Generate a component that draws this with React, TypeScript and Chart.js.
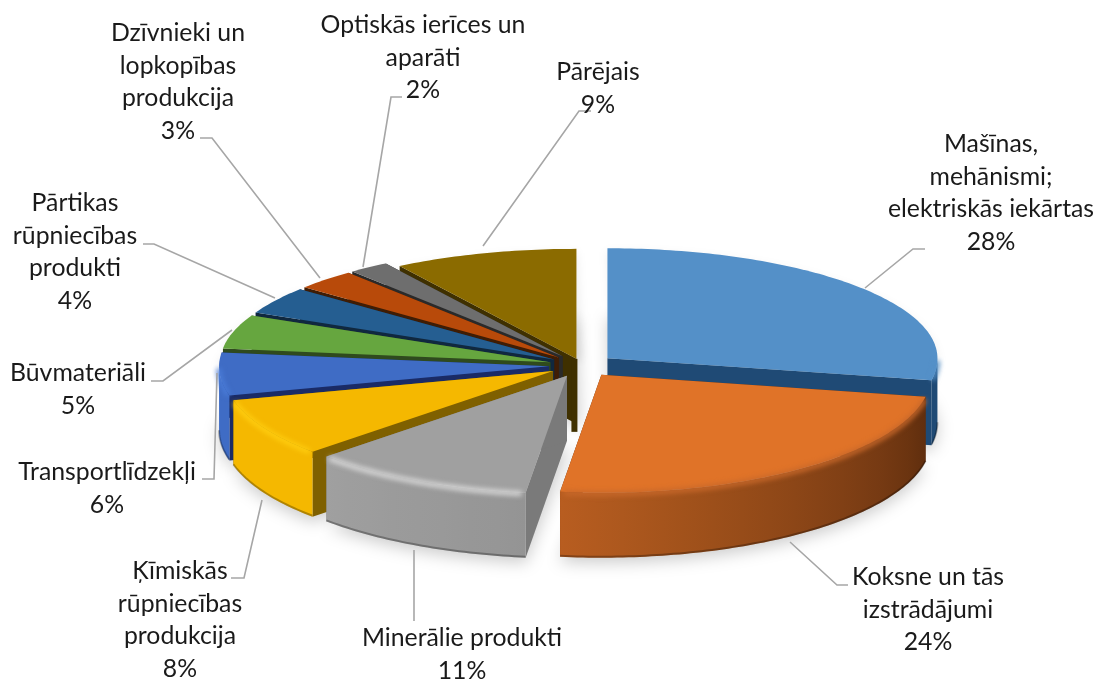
import React, { useEffect, useRef } from "react";
import { Chart, registerables } from "chart.js";

Chart.register(...registerables);

const categories = [
  "Mašīnas, mehānismi; elektriskās iekārtas",
  "Koksne un tās izstrādājumi",
  "Minerālie produkti",
  "Ķīmiskās rūpniecības produkcija",
  "Transportlīdzekļi",
  "Būvmateriāli",
  "Pārtikas rūpniecības produkti",
  "Dzīvnieki un lopkopības produkcija",
  "Optiskās ierīces un aparāti",
  "Pārējais",
];
const shares = [28, 24, 11, 8, 6, 5, 4, 3, 2, 9];
const labelLines = [
  ["Mašīnas,", "mehānismi;", "elektriskās iekārtas"],
  ["Koksne un tās", "izstrādājumi"],
  ["Minerālie produkti"],
  ["Ķīmiskās", "rūpniecības", "produkcija"],
  ["Transportlīdzekļi"],
  ["Būvmateriāli"],
  ["Pārtikas", "rūpniecības", "produkti"],
  ["Dzīvnieki un", "lopkopības", "produkcija"],
  ["Optiskās ierīces un", "aparāti"],
  ["Pārējais"],
];

const topColors = ["#5490C8", "#E07328", "#A0A0A0", "#F5B800", "#3F6CC5", "#66A63F", "#255E91", "#B84A0A", "#6E6E6E", "#8B6B00"];
const wallColors = ["#1F4A75", "#5F2E0E", "#7A7A7A", "#7F6000", "#1A2B66", "#2F4A1E", "#10283F", "#3F1D05", "#2A2A2A", "#3F3000"];
const rimColors = ["#5490C8", "#C8682A", "#D8D8D8", "#FFCE10", "#4A7CD8", "#66A63F", "#255E91", "#B84A0A", "#6E6E6E", "#8B6B00"];
const explode = [33, 33, 33, 33, 33, 33, 33, 33, 33, 20];

// label block: centre x, first line centre y; leader polyline
const labelBoxes = [
  { x: 991, y: 144, leader: [[865, 288], [913, 249], [925, 249]] },
  { x: 928, y: 577, leader: [[790, 542], [837, 585], [848, 585]] },
  { x: 462, y: 638, leader: [[414, 550], [414, 621]] },
  { x: 180, y: 571, leader: [[262, 500], [244, 578], [231, 578]] },
  { x: 107, y: 472, leader: [[217, 373], [214, 479], [202, 479]] },
  { x: 78, y: 373, leader: [[232, 330], [163, 381], [151, 381]] },
  { x: 75, y: 203, leader: [[275, 298], [154, 244], [143, 244]] },
  { x: 178, y: 33, leader: [[320, 278], [212, 138], [200, 138]] },
  { x: 423, y: 25, leader: [[363, 267], [391, 97], [402, 97]] },
  { x: 598, y: 72, leader: [[483, 246], [579, 111], [591, 111]] },
];

const TILT = 114 / 330;
const BACK_RY = 110 / 330;
const FRONT_RY = 118 / 330;
const DEPTH = 65;
const LINE_HEIGHT = 32.7;
const SOFT = "blur(0.7px)";

function hexRgb(h: string) {
  return [parseInt(h.slice(1, 3), 16), parseInt(h.slice(3, 5), 16), parseInt(h.slice(5, 7), 16)];
}
function mix(a: string, b: string, t: number) {
  const A = hexRgb(a), B = hexRgb(b);
  return `rgb(${A.map((v, i) => Math.round(v + (B[i] - v) * t)).join(",")})`;
}

function geom(el: any) {
  const mid = (el.startAngle + el.endAngle) / 2;
  const off = el.options.offset;
  return {
    ax: el.x + Math.cos(mid) * off,
    ay: el.y + Math.sin(mid) * off * TILT,
    r: el.outerRadius,
    a0: el.startAngle,
    a1: el.endAngle,
    mid,
  };
}

function rimX(g: any, a: number) {
  return g.ax + Math.cos(a) * g.r;
}
function rimY(g: any, a: number) {
  const s = Math.sin(a);
  return g.ay + s * g.r * (s < 0 ? BACK_RY : FRONT_RY);
}
// traces the projected rim between two angles, continuing the current path
function traceRim(ctx: CanvasRenderingContext2D, g: any, from: number, to: number, dy = 0) {
  const steps = Math.max(4, Math.ceil((Math.abs(to - from) * 180) / Math.PI));
  for (let k = 0; k <= steps; k++) {
    const a = from + ((to - from) * k) / steps;
    ctx.lineTo(rimX(g, a), rimY(g, a) + dy);
  }
}

const pie3d = {
  id: "pie3d",
  beforeDatasetsDraw(chart: any) {
    const ctx: CanvasRenderingContext2D = chart.ctx;
    const els = chart.getDatasetMeta(0).data as any[];
    const items = els.map((el, i) => ({ i, ...geom(el) }));

    ctx.save();
    // soft floor shadow
    ctx.filter = "blur(8px)";
    ctx.fillStyle = "rgba(0,0,0,0.2)";
    items.forEach((g) => {
      ctx.beginPath();
      ctx.moveTo(g.ax + 3, g.ay + DEPTH + 5);
      traceRim(ctx, g, g.a0, g.a1, DEPTH + 5);
      ctx.closePath();
      ctx.fill();
    });
    ctx.filter = "blur(5px)";
    ctx.fillStyle = "rgba(0,0,0,0.08)";
    items.forEach((g) => {
      ctx.beginPath();
      ctx.moveTo(g.ax + 6, g.ay + 4);
      traceRim(ctx, g, g.a0, g.a1, 4);
      ctx.closePath();
      ctx.fill();
    });

    ctx.filter = SOFT;
    const order = [...items].sort((p, q) => Math.sin(p.mid) - Math.sin(q.mid));
    order.forEach((g) => {
      const { ax, ay, a0, a1, i } = g;

      // radial walls
      ctx.fillStyle = wallColors[i];
      [a0, a1].forEach((a) => {
        ctx.beginPath();
        ctx.moveTo(ax, ay);
        ctx.lineTo(rimX(g, a), rimY(g, a));
        ctx.lineTo(rimX(g, a), rimY(g, a) + DEPTH);
        ctx.lineTo(ax, ay + DEPTH);
        ctx.closePath();
        ctx.fill();
      });
      // wedge that ends exactly at the top shows its inner edge as a strip
      if (Math.abs(a1 - Math.PI * 1.5) < 1e-3) {
        ctx.beginPath();
        ctx.rect(ax - 5, ay, 6, DEPTH + 8);
        ctx.fill();
      }

      // outer wall
      const w0 = Math.max(a0, 0);
      const w1 = Math.min(a1, Math.PI);
      if (w1 > w0) {
        const x0 = rimX(g, w1), x1 = rimX(g, w0);
        const grad = ctx.createLinearGradient(x0, 0, x1 + 0.01, 0);
        for (let k = 0; k <= 8; k++) {
          const a = w1 - ((w1 - w0) * k) / 8;
          const deg = (a * 180) / Math.PI;
          const t = Math.min(1, Math.max(0, (deg - 10) / 127));
          const pos = Math.min(1, Math.max(0, (rimX(g, a) - x0) / (x1 - x0 + 0.01)));
          grad.addColorStop(pos, mix(wallColors[i], topColors[i], t));
        }
        ctx.fillStyle = grad;
        ctx.beginPath();
        ctx.moveTo(rimX(g, w0), rimY(g, w0));
        traceRim(ctx, g, w0, w1);
        traceRim(ctx, g, w1, w0, DEPTH);
        ctx.closePath();
        ctx.fill();
        // dark foot of the wall
        ctx.strokeStyle = "rgba(0,0,0,0.28)";
        ctx.lineWidth = 2;
        ctx.beginPath();
        traceRim(ctx, g, w0, w1, DEPTH - 1);
        ctx.stroke();
      }

      // top face
      ctx.fillStyle = topColors[i];
      ctx.beginPath();
      ctx.moveTo(ax, ay);
      traceRim(ctx, g, a0, a1);
      ctx.closePath();
      ctx.fill();

      // bevel along the front of the rim
      if (w1 > w0) {
        ctx.save();
        ctx.filter = "blur(2.5px)";
        ctx.strokeStyle = rimColors[i];
        ctx.lineWidth = 5;
        ctx.beginPath();
        traceRim(ctx, g, w0 + 0.012, w1 - 0.012, 1);
        ctx.stroke();
        ctx.restore();
      }
    });
    ctx.restore();
    return false;
  },
  afterDraw(chart: any) {
    const ctx: CanvasRenderingContext2D = chart.ctx;
    const total = shares.reduce((s, v) => s + v, 0);
    ctx.save();
    ctx.strokeStyle = "#A6A6A6";
    ctx.lineWidth = 1.6;
    labelBoxes.forEach((b) => {
      ctx.beginPath();
      b.leader.forEach(([x, y], k) => (k ? ctx.lineTo(x, y) : ctx.moveTo(x, y)));
      ctx.stroke();
    });
    ctx.fillStyle = "#1A1A1A";
    ctx.font = "24.8px Lato";
    ctx.textAlign = "center";
    ctx.textBaseline = "middle";
    labelLines.forEach((lines, i) => {
      const pct = `${Math.round((shares[i] / total) * 100)}%`;
      [...lines, pct].forEach((t, k) => {
        ctx.fillText(t, labelBoxes[i].x, labelBoxes[i].y + k * LINE_HEIGHT);
      });
    });
    ctx.restore();
  },
};

export default function App() {
  const ref = useRef<HTMLCanvasElement>(null);
  useEffect(() => {
    const chart = new Chart(ref.current as HTMLCanvasElement, {
      type: "pie",
      data: {
        labels: categories,
        datasets: [{ data: shares, backgroundColor: topColors, offset: explode, borderWidth: 0 }],
      },
      options: {
        responsive: false,
        animation: false,
        radius: 330,
        layout: { padding: { left: 66, top: 52 } },
        plugins: { legend: { display: false }, tooltip: { enabled: false } },
      } as any,
      plugins: [pie3d as any],
    });
    return () => chart.destroy();
  }, []);
  return (
    <div style={{ position: "absolute", left: 0, top: 0, width: 1098, height: 679, background: "#fff" }}>
      <canvas ref={ref} width={1098} height={679} style={{ display: "block" }} />
    </div>
  );
}
